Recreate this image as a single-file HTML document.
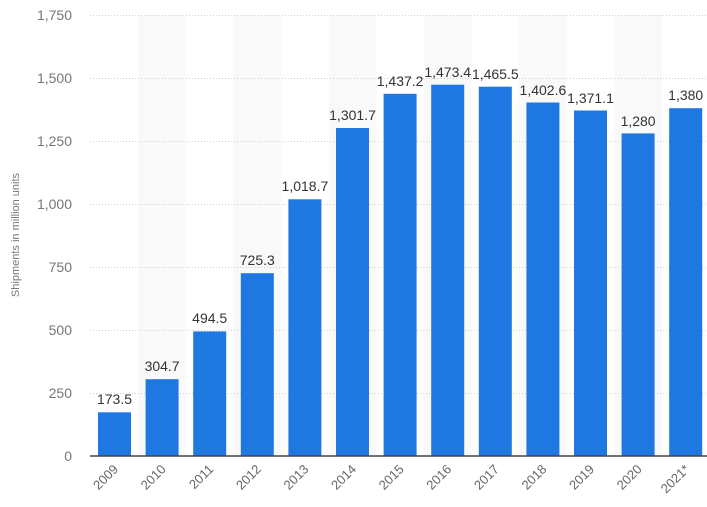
<!DOCTYPE html>
<html><head><style>html,body{margin:0;padding:0;background:#fff;}svg{display:block;font-family:"Liberation Sans",sans-serif;}</style></head>
<body>
<svg width="707" height="507" xmlns="http://www.w3.org/2000/svg">
<g fill="#f9f9f9">
<rect x="138.3" y="15" width="47.6" height="441"/>
<rect x="233.5" y="15" width="47.6" height="441"/>
<rect x="328.7" y="15" width="47.6" height="441"/>
<rect x="423.9" y="15" width="47.6" height="441"/>
<rect x="519.1" y="15" width="47.6" height="441"/>
<rect x="614.3" y="15" width="47.6" height="441"/>
</g>
<g stroke="#d0d0d0" stroke-dasharray="1,2" stroke-width="1">
<line x1="90" x2="707" y1="15.5" y2="15.5"/>
<line x1="90" x2="707" y1="78.5" y2="78.5"/>
<line x1="90" x2="707" y1="141.5" y2="141.5"/>
<line x1="90" x2="707" y1="204.5" y2="204.5"/>
<line x1="90" x2="707" y1="267.5" y2="267.5"/>
<line x1="90" x2="707" y1="330.5" y2="330.5"/>
<line x1="90" x2="707" y1="393.5" y2="393.5"/>
</g>
<g fill="#777" font-size="14" text-anchor="end">
<text x="72" y="20">1,750</text>
<text x="72" y="83">1,500</text>
<text x="72" y="146">1,250</text>
<text x="72" y="209">1,000</text>
<text x="72" y="272">750</text>
<text x="72" y="335">500</text>
<text x="72" y="398">250</text>
<text x="72" y="461">0</text>
</g>
<text transform="translate(19,235) rotate(-90)" fill="#777" font-size="11" text-anchor="middle">Shipments in million units</text>
<g fill="#1f78e1">
<rect x="98" y="412.3" width="33" height="43.7"/>
<rect x="145.6" y="379.2" width="33" height="76.8"/>
<rect x="193.2" y="331.4" width="33" height="124.6"/>
<rect x="240.8" y="273.2" width="33" height="182.8"/>
<rect x="288.4" y="199.3" width="33" height="256.7"/>
<rect x="336" y="128" width="33" height="328"/>
<rect x="383.6" y="93.8" width="33" height="362.2"/>
<rect x="431.2" y="84.7" width="33" height="371.3"/>
<rect x="478.8" y="86.7" width="33" height="369.3"/>
<rect x="526.4" y="102.5" width="33" height="353.5"/>
<rect x="574" y="110.5" width="33" height="345.5"/>
<rect x="621.6" y="133.4" width="33" height="322.6"/>
<rect x="669.2" y="108.2" width="33" height="347.8"/>
</g>
<line x1="90" x2="707" y1="456" y2="456" stroke="#444" stroke-width="1.5"/>
<g fill="#333" font-size="14" text-anchor="middle">
<text x="114.5" y="404">173.5</text>
<text x="162.1" y="371">304.7</text>
<text x="209.7" y="323">494.5</text>
<text x="257.3" y="265">725.3</text>
<text x="304.9" y="191">1,018.7</text>
<text x="352.5" y="120">1,301.7</text>
<text x="400.1" y="86">1,437.2</text>
<text x="447.7" y="77">1,473.4</text>
<text x="495.3" y="79">1,465.5</text>
<text x="542.9" y="95">1,402.6</text>
<text x="590.5" y="103">1,371.1</text>
<text x="638.1" y="126">1,280</text>
<text x="685.7" y="100">1,380</text>
</g>
<g fill="#666" font-size="13" text-anchor="end">
<text transform="translate(119,470) rotate(-45)">2009</text>
<text transform="translate(166.6,470) rotate(-45)">2010</text>
<text transform="translate(214.2,470) rotate(-45)">2011</text>
<text transform="translate(261.8,470) rotate(-45)">2012</text>
<text transform="translate(309.4,470) rotate(-45)">2013</text>
<text transform="translate(357,470) rotate(-45)">2014</text>
<text transform="translate(404.6,470) rotate(-45)">2015</text>
<text transform="translate(452.2,470) rotate(-45)">2016</text>
<text transform="translate(499.8,470) rotate(-45)">2017</text>
<text transform="translate(547.4,470) rotate(-45)">2018</text>
<text transform="translate(595,470) rotate(-45)">2019</text>
<text transform="translate(642.6,470) rotate(-45)">2020</text>
<text transform="translate(690.2,470) rotate(-45)">2021*</text>
</g>
</svg>
</body></html>
